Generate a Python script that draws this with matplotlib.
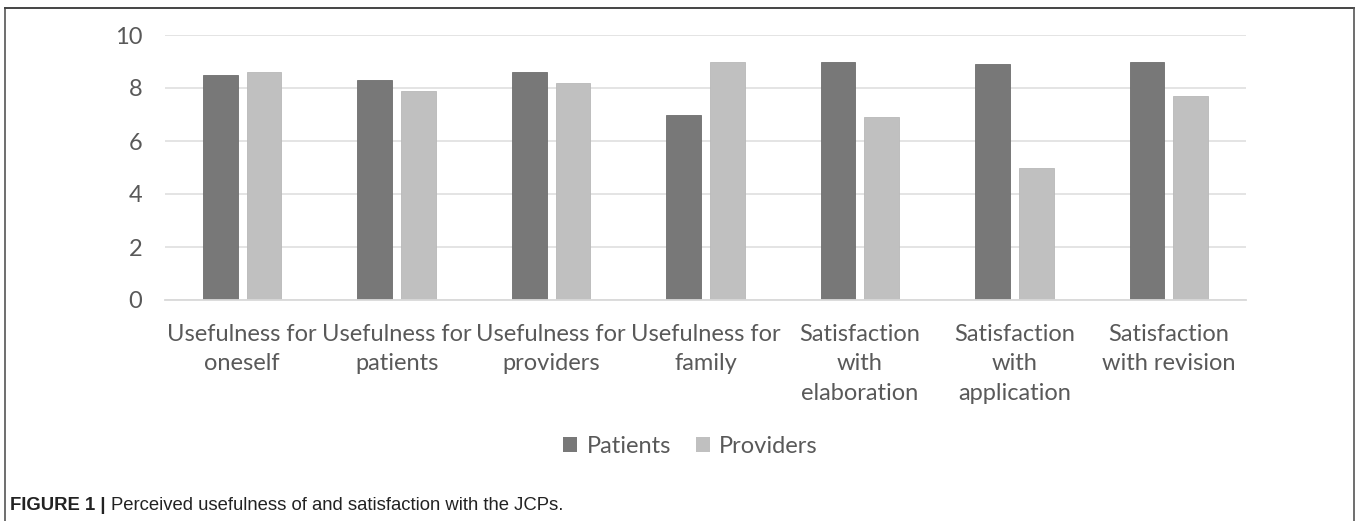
import matplotlib
matplotlib.use("Agg")
import matplotlib.pyplot as plt
from matplotlib.patches import Patch
from matplotlib.lines import Line2D

categories = [
    "Usefulness for\noneself",
    "Usefulness for\npatients",
    "Usefulness for\nproviders",
    "Usefulness for\nfamily",
    "Satisfaction\nwith\nelaboration",
    "Satisfaction\nwith\napplication",
    "Satisfaction\nwith revision",
]
patients = [8.5, 8.3, 8.6, 7.0, 9.0, 8.9, 9.0]
providers = [8.6, 7.9, 8.2, 9.0, 6.9, 5.0, 7.7]
series_names = ["Patients", "Providers"]
yticks = [0, 2, 4, 6, 8, 10]

DARK = "#787878"
LIGHT = "#c0c0c0"
TXT = "#595959"
FONT = "Lato"
FS = 17

W, H = 1357, 521
fig = plt.figure(figsize=(W / 100, H / 100), dpi=100)
ax = fig.add_axes([165 / W, 1 - 300 / H, (1246 - 165) / W, (300 - 35) / H])

x = list(range(len(categories)))
bw = 0.224
off = 0.1415
ax.bar([i - off for i in x], patients, width=bw, color=DARK,
       edgecolor="#6e6e6e", linewidth=0.6, zorder=3, label=series_names[0])
ax.bar([i + off for i in x], providers, width=bw, color=LIGHT,
       edgecolor="#b8b8b8", linewidth=0.6, zorder=3, label=series_names[1])

ax.set_xlim(-0.5, len(categories) - 0.5)
ax.set_ylim(0, 10)
ax.set_yticks(yticks)
ax.set_yticklabels([str(v) for v in yticks], fontfamily=FONT, fontsize=FS, color=TXT)
ax.set_xticks(x)
ax.set_xticklabels(categories, fontfamily=FONT, fontsize=FS, color=TXT,
                   linespacing=1.52, va="top")
ax.tick_params(axis="both", length=0)
ax.tick_params(axis="y", pad=16.5)
ax.tick_params(axis="x", pad=17)
ax.grid(axis="y", color="#e2e2e2", linewidth=1.3, zorder=0)
for s in ["top", "right", "left"]:
    ax.spines[s].set_visible(False)
ax.spines["bottom"].set_color("#d9d9d9")
ax.spines["bottom"].set_linewidth(1.3)
ax.spines["bottom"].set_zorder(4)

handles = [Patch(facecolor=DARK, edgecolor="none"), Patch(facecolor=LIGHT, edgecolor="none")]
leg = ax.legend(handles, series_names, loc="center", bbox_to_anchor=(0.486, -0.553),
                ncol=2, frameon=False, handlelength=0.6, handleheight=0.6,
                handletextpad=0.4, columnspacing=1.05,
                prop={"family": FONT, "size": FS})
for t in leg.get_texts():
    t.set_color(TXT)

# outer frame
fig.add_artist(Line2D([5 / W, 5 / W], [0, 1 - 8 / H], color="#555555", linewidth=1.2))
fig.add_artist(Line2D([5 / W, 1354 / W], [1 - 8 / H, 1 - 8 / H], color="#444444", linewidth=1.4))
fig.add_artist(Line2D([1354 / W, 1354 / W], [0, 1 - 8 / H], color="#555555", linewidth=1.2))

# caption
cap1 = fig.text(10 / W, 1 - 505 / H, "FIGURE 1 | ", fontfamily="Liberation Sans",
                fontweight="bold", fontsize=13.3, va="center", color="#222222")
fig.canvas.draw()
bb = cap1.get_window_extent()
fig.text(bb.x1 / W, 1 - 505 / H, "Perceived usefulness of and satisfaction with the JCPs.",
         fontfamily="Liberation Sans", fontsize=13.3, va="center", color="#222222")

fig.savefig("out.png", dpi=100)
